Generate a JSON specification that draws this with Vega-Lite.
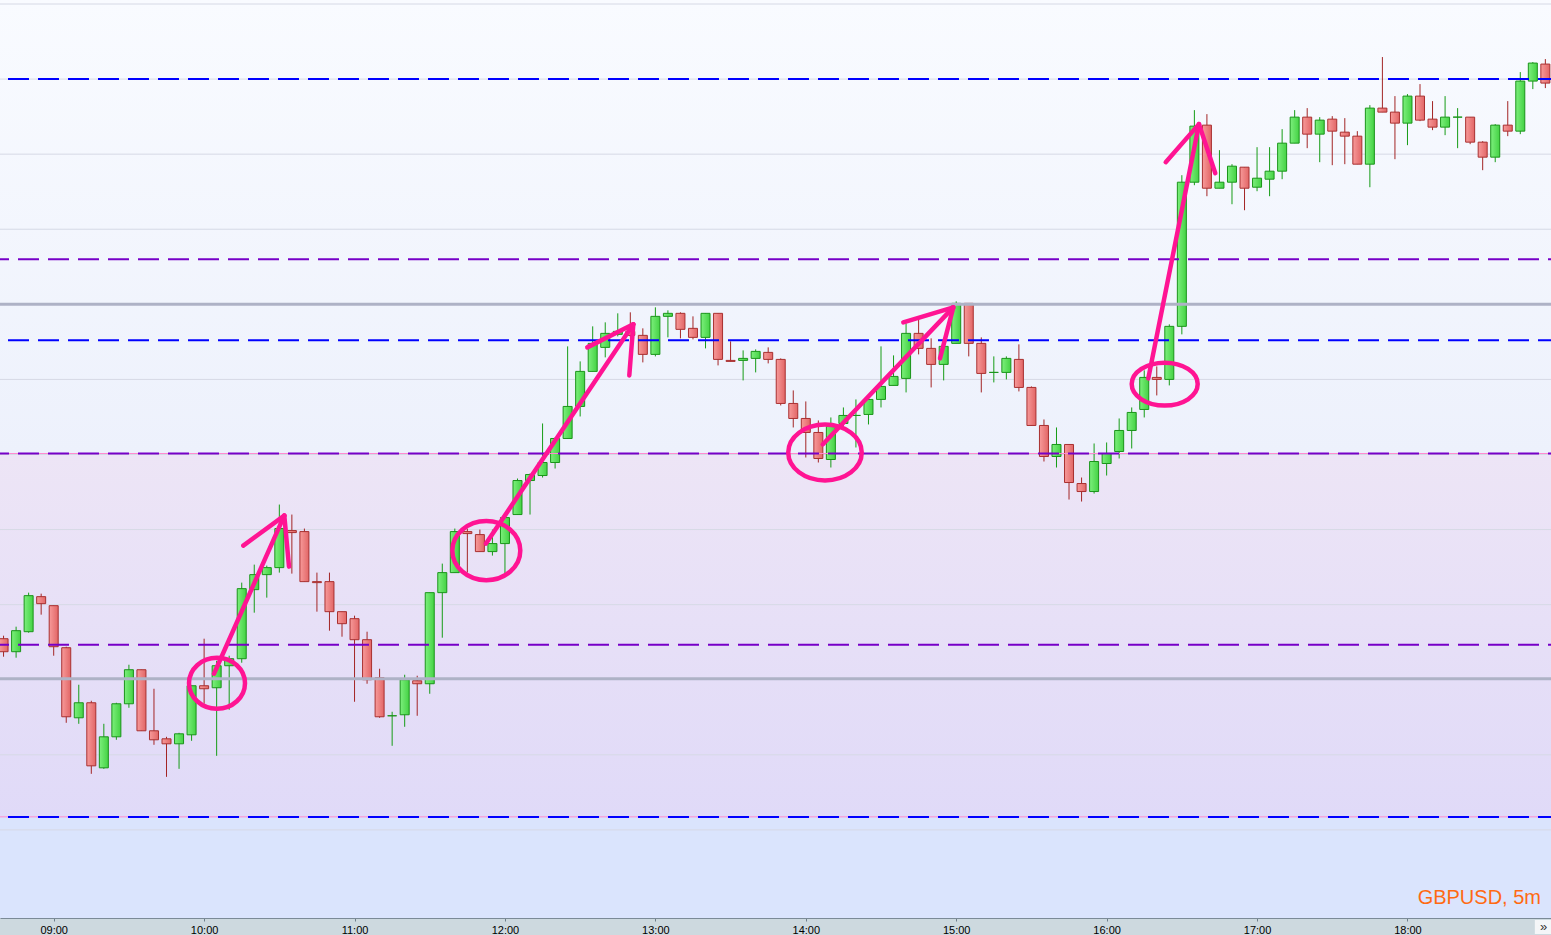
{
"$schema": "https://vega.github.io/schema/vega-lite/v6.json",
"width": 1551, "height": 935,
"autosize": {"type": "fit", "contains": "padding"},
"padding": {"left": 0, "right": 0, "top": 0, "bottom": 0},
"background": "#cdd9df",
"config": {"view": {"stroke": null}, "bar": {"continuousBandSize": 9}, "scale": {"continuousPadding": 0}},
"datasets": {
"candles": [
{"t":520,"o":1.30266,"h":1.30269,"l":1.30248,"c":1.30253},
{"t":525,"o":1.30253,"h":1.30278,"l":1.30247,"c":1.30274},
{"t":530,"o":1.30273,"h":1.30312,"l":1.30272,"c":1.30309},
{"t":535,"o":1.30308,"h":1.30311,"l":1.30290,"c":1.30301},
{"t":540,"o":1.30299,"h":1.30299,"l":1.30249,"c":1.30258},
{"t":545,"o":1.30257,"h":1.30258,"l":1.30182,"c":1.30188},
{"t":550,"o":1.30187,"h":1.30220,"l":1.30181,"c":1.30202},
{"t":555,"o":1.30202,"h":1.30204,"l":1.30131,"c":1.30139},
{"t":560,"o":1.30137,"h":1.30181,"l":1.30136,"c":1.30168},
{"t":565,"o":1.30168,"h":1.30202,"l":1.30165,"c":1.30201},
{"t":570,"o":1.30201,"h":1.30240,"l":1.30197,"c":1.30235},
{"t":575,"o":1.30235,"h":1.30235,"l":1.30174,"c":1.30174},
{"t":580,"o":1.30174,"h":1.30216,"l":1.30160,"c":1.30165},
{"t":585,"o":1.30166,"h":1.30168,"l":1.30128,"c":1.30161},
{"t":590,"o":1.30161,"h":1.30172,"l":1.30136,"c":1.30171},
{"t":595,"o":1.30170,"h":1.30219,"l":1.30164,"c":1.30219},
{"t":600,"o":1.30219,"h":1.30266,"l":1.30201,"c":1.30216},
{"t":605,"o":1.30217,"h":1.30244,"l":1.30149,"c":1.30239},
{"t":610,"o":1.30239,"h":1.30249,"l":1.30195,"c":1.30246},
{"t":615,"o":1.30246,"h":1.30322,"l":1.30242,"c":1.30316},
{"t":620,"o":1.30315,"h":1.30340,"l":1.30292,"c":1.30330},
{"t":625,"o":1.30330,"h":1.30339,"l":1.30307,"c":1.30337},
{"t":630,"o":1.30337,"h":1.30400,"l":1.30332,"c":1.30376},
{"t":635,"o":1.30374,"h":1.30390,"l":1.30331,"c":1.30372},
{"t":640,"o":1.30373,"h":1.30376,"l":1.30323,"c":1.30323},
{"t":645,"o":1.30323,"h":1.30332,"l":1.30293,"c":1.30322},
{"t":650,"o":1.30323,"h":1.30332,"l":1.30274,"c":1.30293},
{"t":655,"o":1.30293,"h":1.30293,"l":1.30268,"c":1.30281},
{"t":660,"o":1.30286,"h":1.30289,"l":1.30203,"c":1.30265},
{"t":665,"o":1.30265,"h":1.30273,"l":1.30221,"c":1.30225},
{"t":670,"o":1.30227,"h":1.30236,"l":1.30187,"c":1.30188},
{"t":675,"o":1.30189,"h":1.30193,"l":1.30159,"c":1.30189},
{"t":680,"o":1.30190,"h":1.30230,"l":1.30178,"c":1.30225},
{"t":685,"o":1.30224,"h":1.30229,"l":1.30189,"c":1.30221},
{"t":690,"o":1.30221,"h":1.30312,"l":1.30211,"c":1.30312},
{"t":695,"o":1.30312,"h":1.30341,"l":1.30267,"c":1.30332},
{"t":700,"o":1.30332,"h":1.30376,"l":1.30332,"c":1.30373},
{"t":705,"o":1.30373,"h":1.30376,"l":1.30332,"c":1.30371},
{"t":710,"o":1.30370,"h":1.30375,"l":1.30353,"c":1.30353},
{"t":715,"o":1.30353,"h":1.30375,"l":1.30349,"c":1.30361},
{"t":720,"o":1.30361,"h":1.30389,"l":1.30331,"c":1.30387},
{"t":725,"o":1.30390,"h":1.30426,"l":1.30390,"c":1.30424},
{"t":730,"o":1.30424,"h":1.30431,"l":1.30390,"c":1.30430},
{"t":735,"o":1.30429,"h":1.30481,"l":1.30427,"c":1.30442},
{"t":740,"o":1.30442,"h":1.30467,"l":1.30436,"c":1.30466},
{"t":745,"o":1.30466,"h":1.30558,"l":1.30466,"c":1.30498},
{"t":750,"o":1.30498,"h":1.30543,"l":1.30488,"c":1.30533},
{"t":755,"o":1.30533,"h":1.30578,"l":1.30533,"c":1.30561},
{"t":760,"o":1.30557,"h":1.30582,"l":1.30547,"c":1.30571},
{"t":765,"o":1.30570,"h":1.30591,"l":1.30568,"c":1.30573},
{"t":770,"o":1.30573,"h":1.30592,"l":1.30567,"c":1.30569},
{"t":775,"o":1.30569,"h":1.30576,"l":1.30542,"c":1.30550},
{"t":780,"o":1.30550,"h":1.30597,"l":1.30548,"c":1.30588},
{"t":785,"o":1.30588,"h":1.30594,"l":1.30567,"c":1.30591},
{"t":790,"o":1.30591,"h":1.30592,"l":1.30566,"c":1.30575},
{"t":795,"o":1.30576,"h":1.30588,"l":1.30565,"c":1.30567},
{"t":800,"o":1.30567,"h":1.30591,"l":1.30556,"c":1.30591},
{"t":805,"o":1.30591,"h":1.30591,"l":1.30539,"c":1.30545},
{"t":810,"o":1.30544,"h":1.30563,"l":1.30543,"c":1.30543},
{"t":815,"o":1.30544,"h":1.30554,"l":1.30524,"c":1.30546},
{"t":820,"o":1.30546,"h":1.30555,"l":1.30532,"c":1.30553},
{"t":825,"o":1.30552,"h":1.30557,"l":1.30541,"c":1.30545},
{"t":830,"o":1.30545,"h":1.30546,"l":1.30499,"c":1.30501},
{"t":835,"o":1.30501,"h":1.30514,"l":1.30477,"c":1.30486},
{"t":840,"o":1.30486,"h":1.30503,"l":1.30447,"c":1.30472},
{"t":845,"o":1.30472,"h":1.30484,"l":1.30442,"c":1.30446},
{"t":850,"o":1.30445,"h":1.30487,"l":1.30437,"c":1.30478},
{"t":855,"o":1.30481,"h":1.30497,"l":1.30476,"c":1.30489},
{"t":860,"o":1.30489,"h":1.30505,"l":1.30457,"c":1.30489},
{"t":865,"o":1.30490,"h":1.30507,"l":1.30480,"c":1.30505},
{"t":870,"o":1.30505,"h":1.30558,"l":1.30497,"c":1.30518},
{"t":875,"o":1.30519,"h":1.30549,"l":1.30519,"c":1.30528},
{"t":880,"o":1.30526,"h":1.30581,"l":1.30512,"c":1.30571},
{"t":885,"o":1.30571,"h":1.30585,"l":1.30550,"c":1.30556},
{"t":890,"o":1.30556,"h":1.30566,"l":1.30517,"c":1.30540},
{"t":895,"o":1.30540,"h":1.30561,"l":1.30524,"c":1.30558},
{"t":900,"o":1.30561,"h":1.30603,"l":1.30561,"c":1.30601},
{"t":905,"o":1.30601,"h":1.30601,"l":1.30548,"c":1.30561},
{"t":910,"o":1.30561,"h":1.30567,"l":1.30512,"c":1.30531},
{"t":915,"o":1.30532,"h":1.30548,"l":1.30522,"c":1.30532},
{"t":920,"o":1.30532,"h":1.30548,"l":1.30525,"c":1.30546},
{"t":925,"o":1.30545,"h":1.30560,"l":1.30513,"c":1.30517},
{"t":930,"o":1.30517,"h":1.30518,"l":1.30479,"c":1.30479},
{"t":935,"o":1.30479,"h":1.30485,"l":1.30443,"c":1.30448},
{"t":940,"o":1.30448,"h":1.30477,"l":1.30437,"c":1.30460},
{"t":945,"o":1.30460,"h":1.30460,"l":1.30405,"c":1.30422},
{"t":950,"o":1.30421,"h":1.30427,"l":1.30403,"c":1.30413},
{"t":955,"o":1.30413,"h":1.30461,"l":1.30411,"c":1.30443},
{"t":960,"o":1.30441,"h":1.30462,"l":1.30429,"c":1.30451},
{"t":965,"o":1.30453,"h":1.30486,"l":1.30446,"c":1.30474},
{"t":970,"o":1.30474,"h":1.30497,"l":1.30456,"c":1.30492},
{"t":975,"o":1.30495,"h":1.30534,"l":1.30487,"c":1.30527},
{"t":980,"o":1.30527,"h":1.30538,"l":1.30509,"c":1.30525},
{"t":985,"o":1.30525,"h":1.30580,"l":1.30519,"c":1.30578},
{"t":990,"o":1.30578,"h":1.30729,"l":1.30570,"c":1.30722},
{"t":995,"o":1.30722,"h":1.30794,"l":1.30719,"c":1.30778},
{"t":1000,"o":1.30779,"h":1.30790,"l":1.30708,"c":1.30716},
{"t":1005,"o":1.30716,"h":1.30754,"l":1.30716,"c":1.30722},
{"t":1010,"o":1.30722,"h":1.30740,"l":1.30700,"c":1.30738},
{"t":1015,"o":1.30737,"h":1.30737,"l":1.30694,"c":1.30716},
{"t":1020,"o":1.30717,"h":1.30757,"l":1.30713,"c":1.30726},
{"t":1025,"o":1.30725,"h":1.30757,"l":1.30708,"c":1.30733},
{"t":1030,"o":1.30733,"h":1.30775,"l":1.30725,"c":1.30761},
{"t":1035,"o":1.30761,"h":1.30794,"l":1.30761,"c":1.30787},
{"t":1040,"o":1.30787,"h":1.30796,"l":1.30756,"c":1.30770},
{"t":1045,"o":1.30770,"h":1.30787,"l":1.30742,"c":1.30784},
{"t":1050,"o":1.30785,"h":1.30788,"l":1.30739,"c":1.30773},
{"t":1055,"o":1.30772,"h":1.30786,"l":1.30740,"c":1.30768},
{"t":1060,"o":1.30768,"h":1.30773,"l":1.30740,"c":1.30740},
{"t":1065,"o":1.30740,"h":1.30799,"l":1.30717,"c":1.30796},
{"t":1070,"o":1.30796,"h":1.30847,"l":1.30792,"c":1.30792},
{"t":1075,"o":1.30792,"h":1.30808,"l":1.30745,"c":1.30781},
{"t":1080,"o":1.30781,"h":1.30810,"l":1.30759,"c":1.30808},
{"t":1085,"o":1.30808,"h":1.30820,"l":1.30783,"c":1.30784},
{"t":1090,"o":1.30785,"h":1.30803,"l":1.30774,"c":1.30777},
{"t":1095,"o":1.30777,"h":1.30808,"l":1.30769,"c":1.30787},
{"t":1100,"o":1.30787,"h":1.30796,"l":1.30756,"c":1.30787},
{"t":1105,"o":1.30787,"h":1.30787,"l":1.30760,"c":1.30762},
{"t":1110,"o":1.30762,"h":1.30763,"l":1.30734,"c":1.30747},
{"t":1115,"o":1.30747,"h":1.30780,"l":1.30742,"c":1.30779},
{"t":1120,"o":1.30779,"h":1.30803,"l":1.30768,"c":1.30773},
{"t":1125,"o":1.30773,"h":1.30832,"l":1.30770,"c":1.30823},
{"t":1130,"o":1.30823,"h":1.30842,"l":1.30815,"c":1.30841},
{"t":1135,"o":1.30840,"h":1.30845,"l":1.30816,"c":1.30821}
],
"bands": [
{"zone": "upper", "t": 518.58, "t2": 1137.25, "p": 1.30904, "p2": 1.30451},
{"zone": "middle", "t": 518.58, "t2": 1137.25, "p": 1.30451, "p2": 1.30088},
{"zone": "lower", "t": 518.58, "t2": 1137.25, "p": 1.30088, "p2": 1.29987}
],
"grid": [{"p":1.30900},{"p":1.30825},{"p":1.30750},{"p":1.30675},{"p":1.30525},{"p":1.30450},{"p":1.30375},{"p":1.30300},{"p":1.30150},{"p":1.30075}],
"levels": [
{"kind":"pivot","p":1.30600},{"kind":"pivot","p":1.30226},
{"kind":"zone","p":1.30451},{"kind":"zone","p":1.30088},
{"kind":"blue","p":1.30825},{"kind":"blue","p":1.30564},{"kind":"blue","p":1.30088},
{"kind":"purple","p":1.30645},{"kind":"purple","p":1.30451},{"kind":"purple","p":1.30260}
],
"arrows": [
{"t":603.94,"p":1.30231,"t2":631.98,"p2":1.30389},
{"t":615.63,"p":1.30359,"t2":631.98,"p2":1.30389},
{"t":631.98,"p":1.30389,"t2":633.86,"p2":1.30338},
{"t":712.44,"p":1.30361,"t2":771.19,"p2":1.30580},
{"t":752.84,"p":1.30557,"t2":771.19,"p2":1.30580},
{"t":771.19,"p":1.30580,"t2":769.60,"p2":1.30529},
{"t":846.74,"p":1.30460,"t2":898.84,"p2":1.30597},
{"t":878.89,"p":1.30582,"t2":898.84,"p2":1.30597},
{"t":898.84,"p":1.30597,"t2":893.53,"p2":1.30546},
{"t":976.62,"p":1.30526,"t2":996.84,"p2":1.30780},
{"t":983.56,"p":1.30742,"t2":996.84,"p2":1.30780},
{"t":996.84,"p":1.30780,"t2":1003.34,"p2":1.30731}
],
"circles": [
{"id":1,"t":605.14,"p":1.302215},
{"id":2,"t":712.56,"p":1.30354},
{"id":3,"t":847.66,"p":1.30452},
{"id":4,"t":983.16,"p":1.305203}
],
"labels": [{"text": "GBPUSD, 5m", "t": 1133.26, "p": 1.30001}],
"button": [
{"part": "box", "t": 1130.8, "t2": 1137.25, "p": 1.29985, "p2": 1.29971},
{"part": "glyph", "text": "»", "t": 1134.3, "p": 1.29978}
]
},
"encoding": {
 "x": {"field": "t", "type": "quantitative",
       "scale": {"domain": [518.58, 1137.25], "nice": false, "zero": false, "padding": 0},
       "axis": {"values": [540, 600, 660, 720, 780, 840, 900, 960, 1020, 1080],
                "labelExpr": "(datum.value < 600 ? '0' : '') + floor(datum.value / 60) + ':00'",
                "title": null, "grid": false, "tickSize": 3, "tickColor": "#6f7f8c", "domainColor": "#7b8a97",
                "labelFont": "Liberation Sans", "labelFontSize": 11, "labelColor": "#000000", "labelPadding": 3}}
},
"layer": [
{"data": {"name": "bands"},
 "transform": [{"filter": "datum.zone == 'upper'"}],
 "mark": {"type": "rect", "fill": {"gradient": "linear", "x1": 0, "y1": 0, "x2": 0, "y2": 1, "stops": [{"offset": 0, "color": "#f9fbff"}, {"offset": 1, "color": "#edf1fc"}]}},
 "encoding": {
  "x2": {"field": "t2"},
  "y": {"field": "p", "type": "quantitative", "scale": {"domain": [1.29987, 1.30904], "nice": false, "zero": false, "padding": 0}, "axis": null},
  "y2": {"field": "p2"}}},
{"data": {"name": "bands"},
 "transform": [{"filter": "datum.zone == 'middle'"}],
 "mark": {"type": "rect", "fill": {"gradient": "linear", "x1": 0, "y1": 0, "x2": 0, "y2": 1, "stops": [{"offset": 0, "color": "#ede5f6"}, {"offset": 1, "color": "#e0daf8"}]}},
 "encoding": {
  "x2": {"field": "t2"},
  "y": {"field": "p", "type": "quantitative", "axis": null},
  "y2": {"field": "p2"}}},
{"data": {"name": "bands"},
 "transform": [{"filter": "datum.zone == 'lower'"}],
 "mark": {"type": "rect", "fill": "#dae4fd"},
 "encoding": {
  "x2": {"field": "t2"},
  "y": {"field": "p", "type": "quantitative", "axis": null},
  "y2": {"field": "p2"}}},
{"data": {"name": "grid"},
 "mark": {"type": "rule", "color": "#d6d9e5", "strokeWidth": 1, "clip": true},
 "encoding": {"x": null, "y": {"field": "p", "type": "quantitative", "axis": null}}},
{"data": {"name": "candles"},
 "mark": {"type": "rule", "strokeWidth": 1, "clip": true},
 "encoding": {
  "y": {"field": "h", "type": "quantitative", "axis": null},
  "y2": {"field": "l"},
  "color": {"condition": {"test": "datum.c >= datum.o", "value": "#169c16"}, "value": "#a32525"}}},
{"data": {"name": "candles"},
 "transform": [{"filter": "datum.c >= datum.o"}],
 "mark": {"type": "bar", "width": 9, "clip": true, "stroke": "#1a941a", "strokeWidth": 1, "fill": {"gradient": "linear", "x1": 0, "y1": 0, "x2": 1, "y2": 0, "stops": [{"offset": 0, "color": "#7cef7c"}, {"offset": 1, "color": "#44d244"}]}},
 "encoding": {
  "y": {"field": "o", "type": "quantitative", "axis": null},
  "y2": {"field": "c"}}},
{"data": {"name": "candles"},
 "transform": [{"filter": "datum.c < datum.o"}],
 "mark": {"type": "bar", "width": 9, "clip": true, "stroke": "#a83030", "strokeWidth": 1, "fill": {"gradient": "linear", "x1": 0, "y1": 0, "x2": 1, "y2": 0, "stops": [{"offset": 0, "color": "#f79a9a"}, {"offset": 1, "color": "#e26666"}]}},
 "encoding": {
  "y": {"field": "o", "type": "quantitative", "axis": null},
  "y2": {"field": "c"}}},
{"data": {"name": "levels"},
 "transform": [{"filter": "datum.kind == 'pivot'"}],
 "mark": {"type": "rule", "color": "#aeb2c6", "strokeWidth": 3, "clip": true},
 "encoding": {"x": null, "y": {"field": "p", "type": "quantitative", "axis": null}}},
{"data": {"name": "levels"},
 "transform": [{"filter": "datum.kind == 'zone'"}],
 "mark": {"type": "rule", "color": "#ff8ad0", "strokeWidth": 1, "clip": true},
 "encoding": {"x": null, "y": {"field": "p", "type": "quantitative", "axis": null}}},
{"data": {"name": "levels"},
 "transform": [{"filter": "datum.kind == 'blue'"}],
 "mark": {"type": "rule", "color": "#0000ff", "strokeWidth": 2, "strokeDash": [21, 9], "strokeDashOffset": 8, "clip": true},
 "encoding": {"x": null, "y": {"field": "p", "type": "quantitative", "axis": null}}},
{"data": {"name": "levels"},
 "transform": [{"filter": "datum.kind == 'purple'"}],
 "mark": {"type": "rule", "color": "#7700c8", "strokeWidth": 2, "strokeDash": [21, 9], "strokeDashOffset": 18, "clip": true},
 "encoding": {"x": null, "y": {"field": "p", "type": "quantitative", "axis": null}}},
{"data": {"name": "arrows"},
 "mark": {"type": "rule", "color": "#ff1493", "strokeWidth": 4.5, "strokeCap": "round"},
 "encoding": {
  "x2": {"field": "t2"},
  "y": {"field": "p", "type": "quantitative", "axis": null},
  "y2": {"field": "p2"}}},
{"data": {"name": "circles"},
 "transform": [{"filter": "datum.id == 1"}],
 "mark": {"type": "point", "filled": false, "opacity": 1, "color": "#ff1493", "strokeWidth": 4.5, "size": 3136,
          "shape": "M-1,0C-1,-0.5026,-0.5523,-0.91,0,-0.91C0.5523,-0.91,1,-0.5026,1,0C1,0.5026,0.5523,0.91,0,0.91C-0.5523,0.91,-1,0.5026,-1,0Z"},
 "encoding": {"y": {"field": "p", "type": "quantitative", "axis": null}}},
{"data": {"name": "circles"},
 "transform": [{"filter": "datum.id == 2"}],
 "mark": {"type": "point", "filled": false, "opacity": 1, "color": "#ff1493", "strokeWidth": 4.5, "size": 4624,
          "shape": "M-1,0C-1,-0.4805,-0.5523,-0.87,0,-0.87C0.5523,-0.87,1,-0.4805,1,0C1,0.4805,0.5523,0.87,0,0.87C-0.5523,0.87,-1,0.4805,-1,0Z"},
 "encoding": {"y": {"field": "p", "type": "quantitative", "axis": null}}},
{"data": {"name": "circles"},
 "transform": [{"filter": "datum.id == 3"}],
 "mark": {"type": "point", "filled": false, "opacity": 1, "color": "#ff1493", "strokeWidth": 4.5, "size": 5402,
          "shape": "M-1,0C-1,-0.4197,-0.5523,-0.76,0,-0.76C0.5523,-0.76,1,-0.4197,1,0C1,0.4197,0.5523,0.76,0,0.76C-0.5523,0.76,-1,0.4197,-1,0Z"},
 "encoding": {"y": {"field": "p", "type": "quantitative", "axis": null}}},
{"data": {"name": "circles"},
 "transform": [{"filter": "datum.id == 4"}],
 "mark": {"type": "point", "filled": false, "opacity": 1, "color": "#ff1493", "strokeWidth": 4.5, "size": 4356,
          "shape": "M-1,0C-1,-0.359,-0.5523,-0.65,0,-0.65C0.5523,-0.65,1,-0.359,1,0C1,0.359,0.5523,0.65,0,0.65C-0.5523,0.65,-1,0.359,-1,0Z"},
 "encoding": {"y": {"field": "p", "type": "quantitative", "axis": null}}},
{"data": {"name": "labels"},
 "mark": {"type": "text", "align": "right", "baseline": "alphabetic", "font": "Liberation Sans", "fontSize": 20, "color": "#ff6a13"},
 "encoding": {"y": {"field": "p", "type": "quantitative", "axis": null}, "text": {"field": "text"}}},
{"data": {"name": "button"},
 "transform": [{"filter": "datum.part == 'box'"}],
 "mark": {"type": "rect", "fill": "#f4f6f8"},
 "encoding": {
  "x2": {"field": "t2"},
  "y": {"field": "p", "type": "quantitative", "axis": null},
  "y2": {"field": "p2"}}},
{"data": {"name": "button"},
 "transform": [{"filter": "datum.part == 'glyph'"}],
 "mark": {"type": "text", "align": "center", "baseline": "middle", "font": "Liberation Sans", "fontSize": 13, "color": "#333333"},
 "encoding": {
  "y": {"field": "p", "type": "quantitative", "axis": null},
  "text": {"field": "text"}}}
]
}
